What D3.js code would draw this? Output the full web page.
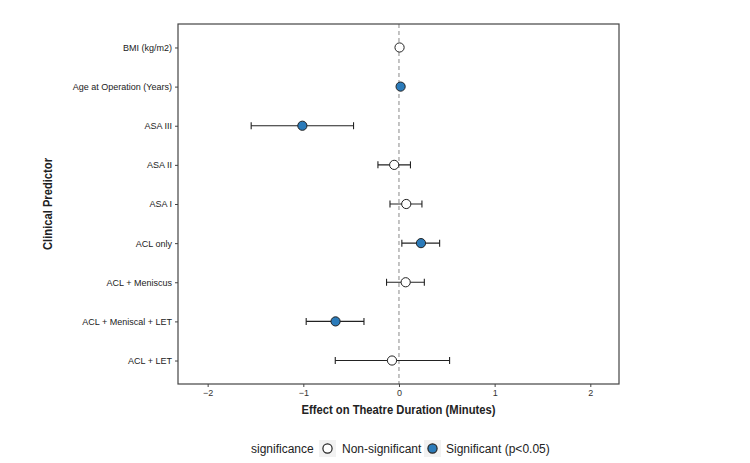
<!DOCTYPE html>
<html><head><meta charset="utf-8">
<script src="https://cdn.jsdelivr.net/npm/d3@7"></script>
<style>body{margin:0;background:#fff;} svg{display:block;}</style>
</head><body>
<svg id="c" width="750" height="463"></svg>
<script>
const predictors = ["BMI (kg/m2)","Age at Operation (Years)","ASA III","ASA II","ASA I","ACL only","ACL + Meniscus","ACL + Meniscal + LET","ACL + LET"];
const estimates = [0.006, 0.017, -1.01, -0.05, 0.076, 0.23, 0.07, -0.663, -0.073];
const lowerCI   = [-0.01, 0.005, -1.545, -0.22, -0.094, 0.03, -0.13, -0.97, -0.666];
const upperCI   = [0.02, 0.03, -0.475, 0.12, 0.24, 0.425, 0.265, -0.366, 0.529];
const significant = [false, true, true, false, false, true, false, true, false];
const xTicks = [-2, -1, 0, 1, 2];
const legendLabels = ["Non-significant", "Significant (p<0.05)"];

const svg = d3.select("#c");
const L = 178, R = 619, T = 24, B = 384;
const blue = "#2b7bba";
const x = d3.scaleLinear().domain([-2.31, 2.3]).range([L, R]);
const y = d3.scalePoint().domain(predictors).range([T, B]).padding(0.6);

// dashed zero line
svg.append("line").attr("x1", x(0)).attr("x2", x(0)).attr("y1", T).attr("y2", B)
  .attr("stroke", "#888").attr("stroke-width", 1).attr("stroke-dasharray", "4,3");

const data = predictors.map((p, i) => ({p, est: estimates[i], lo: lowerCI[i], hi: upperCI[i], sig: significant[i]}));

const g = svg.append("g");
const rows = g.selectAll("g.row").data(data).enter().append("g");
rows.append("line").attr("x1", d => x(d.lo)).attr("x2", d => x(d.hi))
  .attr("y1", d => y(d.p)).attr("y2", d => y(d.p)).attr("stroke", "#222").attr("stroke-width", 1.1);
rows.append("line").attr("x1", d => x(d.lo)).attr("x2", d => x(d.lo))
  .attr("y1", d => y(d.p) - 3.5).attr("y2", d => y(d.p) + 3.5).attr("stroke", "#222").attr("stroke-width", 1.1);
rows.append("line").attr("x1", d => x(d.hi)).attr("x2", d => x(d.hi))
  .attr("y1", d => y(d.p) - 3.5).attr("y2", d => y(d.p) + 3.5).attr("stroke", "#222").attr("stroke-width", 1.1);
rows.append("circle").attr("cx", d => x(d.est)).attr("cy", d => y(d.p)).attr("r", 4.6)
  .attr("fill", d => d.sig ? blue : "#fff").attr("stroke", "#222").attr("stroke-width", 1);

// panel border
svg.append("rect").attr("x", L).attr("y", T).attr("width", R - L).attr("height", B - T)
  .attr("fill", "none").attr("stroke", "#444").attr("stroke-width", 1.2);

// x axis
const xa = svg.append("g").attr("transform", `translate(0,${B})`)
  .call(d3.axisBottom(x).tickValues(xTicks).tickSize(3).tickPadding(3).tickFormat(d3.format("d")));
xa.select(".domain").remove();
xa.selectAll("line").attr("stroke", "#444");
xa.selectAll("text").attr("fill", "#333").style("font-family", "Liberation Sans, Arial, sans-serif").style("font-size", "9px");

// y axis
const ya = svg.append("g").attr("transform", `translate(${L},0)`)
  .call(d3.axisLeft(y).tickSize(3).tickPadding(3));
ya.select(".domain").remove();
ya.selectAll("line").attr("stroke", "#444");
ya.selectAll("text").attr("fill", "#222").style("font-family", "Liberation Sans, Arial, sans-serif").style("font-size", "9px");

// axis titles
svg.append("text").attr("x", (L + R) / 2).attr("y", 414).attr("text-anchor", "middle")
  .attr("textLength", 194).attr("lengthAdjust", "spacingAndGlyphs")
  .style("font-family", "Liberation Sans, Arial, sans-serif").style("font-weight", "bold").style("font-size", "13px")
  .attr("fill", "#222").text("Effect on Theatre Duration (Minutes)");
svg.append("text").attr("transform", `translate(52,${(T + B) / 2}) rotate(-90)`).attr("text-anchor", "middle")
  .attr("textLength", 92).attr("lengthAdjust", "spacingAndGlyphs")
  .style("font-family", "Liberation Sans, Arial, sans-serif").style("font-weight", "bold").style("font-size", "13px")
  .attr("fill", "#222").text("Clinical Predictor");

// legend
const lg = svg.append("g").style("font-family", "Liberation Sans, Arial, sans-serif").style("font-size", "12px");
lg.append("text").attr("x", 251).attr("y", 453).attr("fill", "#222").text("significance");
const keyX = [319, 424];
const textX = [342, 446];
legendLabels.forEach((lab, i) => {
  lg.append("rect").attr("x", keyX[i]).attr("y", 440).attr("width", 17).attr("height", 17).attr("fill", "#f2f2f2");
  lg.append("circle").attr("cx", keyX[i] + 8.5).attr("cy", 448.5).attr("r", 4.6)
    .attr("fill", i === 1 ? blue : "#fff").attr("stroke", "#222").attr("stroke-width", 1.2);
  lg.append("text").attr("x", textX[i]).attr("y", 453).attr("fill", "#222").text(lab);
});
</script>
</body></html>
